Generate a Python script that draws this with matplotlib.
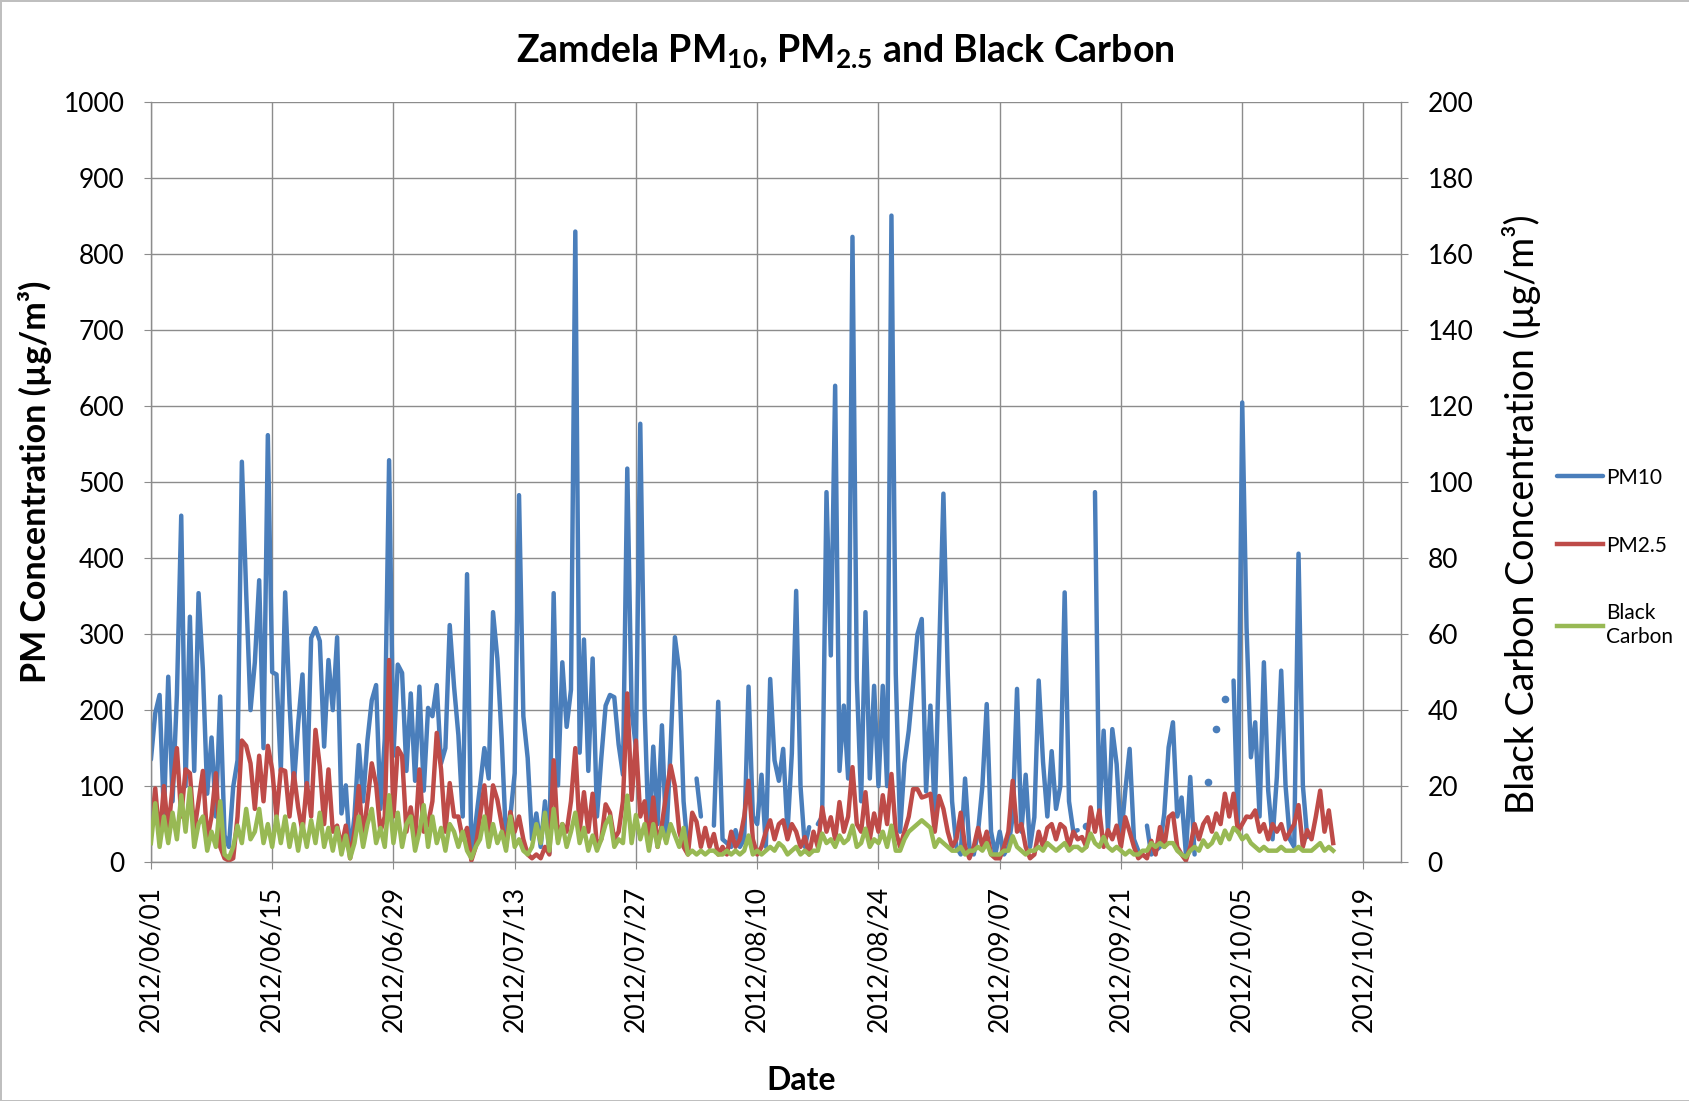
import matplotlib
matplotlib.use("Agg")
import matplotlib.pyplot as plt
import matplotlib.dates as mdates
import numpy as np
import pandas as pd

plt.rcParams['font.family'] = ['Lato', 'DejaVu Sans']
plt.rcParams['mathtext.fontset'] = 'custom'
plt.rcParams['mathtext.rm'] = 'Lato'
plt.rcParams['mathtext.bf'] = 'Lato:bold'

nan = np.nan

# 12-hourly readings, Zamdela, from 2012-06-01 00:00 (two values per day)
pm10 = [
    135, 196, 220, 60, 244, 80, 220, 456, 100, 323,       # d0-4
    120, 354, 253, 90, 164, 60, 218, 35, 20, 99,          # d5-9
    134, 527, 354, 200, 263, 371, 150, 562, 250, 247,     # d10-14
    120, 355, 210, 100, 182, 247, 85, 295, 308, 291,      # d15-19
    152, 266, 200, 296, 64, 101, 10, 60, 154, 80,         # d20-24
    160, 213, 233, 70, 162, 529, 140, 260, 249, 120,      # d25-29
    222, 107, 231, 94, 203, 192, 233, 130, 150, 312,      # d30-34
    231, 167, 60, 379, 12, 52, 100, 150, 110, 329,        # d35-39
    268, 162, 30, 60, 117, 483, 192, 137, 30, 64,         # d40-44
    20, 80, 12, 354, 101, 263, 178, 227, 830, 144,        # d45-49
    293, 120, 268, 60, 137, 206, 220, 217, 155, 115,      # d50-54
    518, 200, 150, 577, 203, 25, 152, 50, 180, 30,        # d55-59
    150, 296, 251, 80, 15, nan, 110, 60, nan, nan,        # d60-64
    48, 211, 30, 25, 20, 42, 20, 30, 231, 60,             # d65-69
    50, 115, 20, 241, 134, 107, 149, 40, 143, 357,        # d70-74
    100, 20, 46, nan, 50, 60, 487, 272, 627, 120,         # d75-79
    206, 110, 823, 241, 80, 329, 110, 232, 100, 232,      # d80-84
    100, 851, 248, 40, 130, 173, 235, 300, 320, 93,       # d85-89
    206, 60, 270, 485, 248, 80, 20, 10, 110, 20,          # d90-94
    10, 40, 100, 208, 40, 10, 40, 10, 20, 60,             # d95-99
    228, 40, 115, 20, 59, 239, 132, 60, 146, 70,          # d100-104
    100, 355, 80, 40, 42, nan, 48, nan, 487, 60,          # d105-109
    173, 40, 175, 129, 30, 94, 149, 30, 15, nan,          # d110-114
    48, 10, 15, 20, 64, 151, 184, 60, 85, 10,             # d115-119
    112, 10, nan, nan, 105, nan, 175, nan, 215, nan,      # d120-124
    239, 40, 605, 309, 138, 184, 60, 263, 94, 30,         # d125-129
    112, 252, 101, 30, 20, 406, 101, 33, nan, nan,        # d130-134
    nan, nan, nan, nan,                                   # d135-136
]

pm25 = [
    40, 97, 30, 100, 40, 100, 150, 60, 122, 117,
    40, 80, 120, 30, 60, 117, 20, 5, 2, 5,
    60, 160, 153, 130, 70, 140, 80, 153, 122, 60,
    122, 120, 60, 117, 72, 40, 104, 60, 174, 126,
    50, 122, 40, 48, 20, 48, 5, 40, 100, 30,
    80, 130, 102, 40, 60, 266, 60, 150, 140, 40,
    72, 30, 122, 40, 50, 80, 170, 122, 40, 104,
    60, 60, 30, 45, 2, 20, 60, 101, 40, 101,
    82, 50, 20, 66, 40, 60, 30, 10, 5, 10,
    5, 20, 10, 134, 30, 50, 40, 80, 150, 40,
    92, 40, 90, 20, 30, 76, 65, 30, 40, 80,
    222, 82, 160, 60, 80, 20, 85, 20, 50, 90,
    127, 100, 40, 20, 10, 65, 53, 20, 45, 20,
    37, 10, 20, 10, 40, 20, 30, 60, 107, 30,
    10, 20, 40, 55, 30, 50, 55, 30, 50, 40,
    20, 33, 10, 40, 20, 72, 40, 59, 30, 79,
    40, 60, 125, 50, 40, 92, 30, 64, 40, 88,
    50, 116, 40, 20, 40, 60, 96, 96, 85, 87,
    90, 40, 87, 70, 40, 20, 30, 65, 20, 5,
    20, 45, 20, 40, 10, 5, 5, 20, 40, 107,
    40, 50, 20, 5, 10, 40, 20, 45, 50, 30,
    50, 45, 20, 40, 30, 33, 20, 72, 40, 68,
    20, 42, 30, 48, 20, 59, 40, 20, 5, 10,
    5, 28, 10, 46, 20, 59, 64, 20, 10, 2,
    20, 50, 30, 50, 59, 40, 64, 50, 90, 60,
    90, 40, 50, 60, 59, 68, 40, 50, 30, 50,
    40, 50, 30, 40, 50, 75, 20, 42, 30, 60,
    94, 40, 68, 25,
]

black_carbon = [
    5, 15.5, 4, 12, 5, 13, 6, 17.6, 8, 19.4,
    4, 10, 12, 3, 8, 4, 16, 2, 1, 4,
    9.6, 5, 14, 6, 8, 14, 5, 10, 4, 12,
    5, 12, 4, 10, 3, 10, 4, 11, 5, 13,
    4, 9, 3, 9, 2, 7, 1, 5, 12, 4,
    10, 14, 5, 9, 4, 17.6, 5, 13, 4, 10,
    12, 3, 8, 15, 4, 12, 5, 9, 3, 10,
    8, 4, 8, 3, 1, 4, 6, 12, 4, 10,
    5, 8, 3, 12, 4, 6, 3, 2, 4, 10,
    5, 13, 3, 14, 5, 10, 4, 8, 13, 5,
    9, 3, 7, 3, 6, 10, 12, 4, 6, 5,
    17.5, 5, 12.4, 6, 10, 3, 10, 4, 9, 5,
    10, 7, 4, 9, 2, 3, 2, 3, 2, 3,
    3, 2, 2, 3, 2, 3, 2, 3, 7, 2,
    3, 2, 3, 4, 3, 5, 4, 2, 3, 4,
    2, 3, 2, 3, 3, 7.5, 5, 6, 4, 7,
    5, 6, 9.6, 4, 5, 8.8, 4, 6, 5, 8,
    4, 9.6, 3, 3, 6, 8, 9, 10, 11, 10,
    9, 4, 6, 5, 4, 3, 3, 4, 2, 3,
    3, 4, 3, 5, 2, 2, 2, 3, 3, 6.8,
    4, 3, 2, 3, 3, 4, 3, 5, 4, 3,
    4, 5, 3, 4, 4, 3, 4, 7.5, 5, 4,
    6.6, 4, 3, 4, 3, 2, 3, 2, 2, 3,
    3, 5, 4, 5, 4, 5, 5, 3, 2, 1.3,
    3, 4, 3, 5.7, 4, 5, 7.5, 5, 8.3, 6,
    9, 8, 6, 7, 5, 4, 3, 4, 3, 3,
    3, 4, 3, 3, 3, 4, 3, 3, 3, 4,
    5, 3, 4, 3,
]

times = pd.date_range('2012-06-01 00:00', periods=len(pm25), freq='12h')
tick_dates = pd.date_range('2012-06-01', '2012-10-19', freq='14D')

blue = '#4A7EBB'
red = '#BE4B48'
green = '#98B954'
grid_c = '#8C8C8C'

# readings with missing values on both sides get a dot so they stay visible
pm10_arr = np.array(pm10, dtype=float)
padded = np.concatenate([[nan], pm10_arr, [nan]])
lone = [i for i in range(len(pm10_arr))
        if not np.isnan(pm10_arr[i]) and np.isnan(padded[i]) and np.isnan(padded[i + 2])]

fig = plt.figure(figsize=(16.9, 11.01), dpi=100)
fig.patch.set_edgecolor('#BFBFBF')
fig.patch.set_linewidth(2)
ax = fig.add_axes([0.0893, 0.217, 0.7397, 0.690])
ax2 = ax.twinx()

ax.plot(times, pm10_arr, color=blue, lw=3.2, solid_capstyle='round', label='PM10')
ax.plot(times[lone], pm10_arr[lone], 'o', color=blue, ms=4.5)
ax.plot(times, pm25, color=red, lw=3.2, label='PM2.5')
ax2.plot(times, black_carbon, color=green, lw=3.2, label='Black\nCarbon')

ax.set_ylim(0, 1000)
ax.set_yticks(range(0, 1001, 100))
ax2.set_ylim(0, 200)
ax2.set_yticks(range(0, 201, 20))
ax.set_xlim(pd.Timestamp('2012-06-01'), pd.Timestamp('2012-10-23 08:00'))
ax.set_xticks(tick_dates)
ax.xaxis.set_major_formatter(mdates.DateFormatter('%Y/%m/%d'))
plt.setp(ax.get_xticklabels(), rotation=90)

ax.grid(True, color=grid_c, lw=1.0)
ax.set_axisbelow(True)
for s in ['top', 'right']:
    ax.spines[s].set_visible(False)
for s in ['top', 'left', 'bottom']:
    ax2.spines[s].set_visible(False)
for sp in [ax.spines['left'], ax.spines['bottom'], ax2.spines['right']]:
    sp.set_color(grid_c)
    sp.set_linewidth(1.0)

ax.tick_params(axis='y', labelsize=19, length=5, color=grid_c, pad=14)
ax.tick_params(axis='x', labelsize=19, length=5, color=grid_c, pad=12)
ax2.tick_params(axis='y', labelsize=19, length=5, color=grid_c, pad=14)

ax.set_ylabel('PM Concentration (µg/m³)', fontsize=24.5, fontweight='bold')
ax.yaxis.set_label_coords(-0.079, 0.5)
ax2.set_ylabel('Black Carbon Concentration (µg/m³)', fontsize=27)
ax2.yaxis.set_label_coords(1.081, 0.458)
ax.set_xlabel('Date', fontsize=23, fontweight='bold')
ax.xaxis.set_label_coords(0.52, -0.268)

fig.suptitle(r'Zamdela PM$_\mathbf{10}$, PM$_\mathbf{2.5}$ and Black Carbon',
             fontsize=27, fontweight='bold', x=0.5, y=0.97)

h1, l1 = ax.get_legend_handles_labels()
h2, l2 = ax2.get_legend_handles_labels()
leg = fig.legend(h1 + h2, l1 + l2, loc='center left', bbox_to_anchor=(0.915, 0.494),
                 frameon=False, fontsize=15, handlelength=2.2, handletextpad=0.15,
                 labelspacing=2.3, borderpad=0)

fig.savefig('out.png', dpi=100)
